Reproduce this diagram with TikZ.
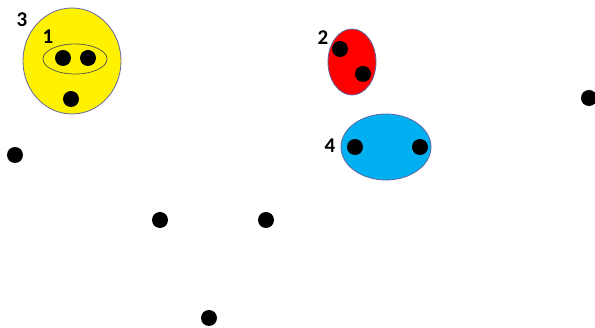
\documentclass[tikz,border=0pt]{standalone}
\usepackage{fontspec}
\setmainfont{Carlito}
\begin{document}
\begin{tikzpicture}[x=1pt,y=-1pt,
  dot/.style={circle,fill=black,inner sep=0pt,minimum size=16pt},
  lbl/.style={font=\bfseries\fontsize{21}{21}\selectfont,inner sep=0pt},
  blob/.style={draw=black!60!blue!60!white,line width=0.8pt}]
\useasboundingbox (0,0) rectangle (595,328);
\fill[white] (0,0) rectangle (595,328);
% set 3 (yellow)
\draw[blob,fill=yellow] (72,61) ellipse [x radius=49, y radius=53];
\draw[blob,draw=black!70!yellow] (75,59) ellipse [x radius=32, y radius=15];
\node[dot] (a1) at (63,58) {};
\node[dot] (a2) at (88,58) {};
\node[dot] (a3) at (71,99) {};
\node[lbl] (l3) at (22,20) {3};
\node[lbl] (l1) at (48,37) {1};
% set 2 (red)
\draw[blob,fill=red] (352,62) ellipse [x radius=24, y radius=33];
\node[dot] (b1) at (340,49) {};
\node[dot] (b2) at (363,74) {};
\node[lbl] (l2) at (323,38) {2};
% set 4 (blue)
\draw[blob,fill={rgb,255:red,0;green,176;blue,240}] (386,147) ellipse [x radius=45, y radius=33];
\node[dot] (c1) at (355,147) {};
\node[dot] (c2) at (420,147) {};
\node[lbl] (l4) at (330,146) {4};
% loose points
\node[dot] (d1) at (589,98) {};
\node[dot] (d2) at (15,155) {};
\node[dot] (d3) at (160,220) {};
\node[dot] (d4) at (266,220) {};
\node[dot] (d5) at (209,318) {};
\end{tikzpicture}
\end{document}
